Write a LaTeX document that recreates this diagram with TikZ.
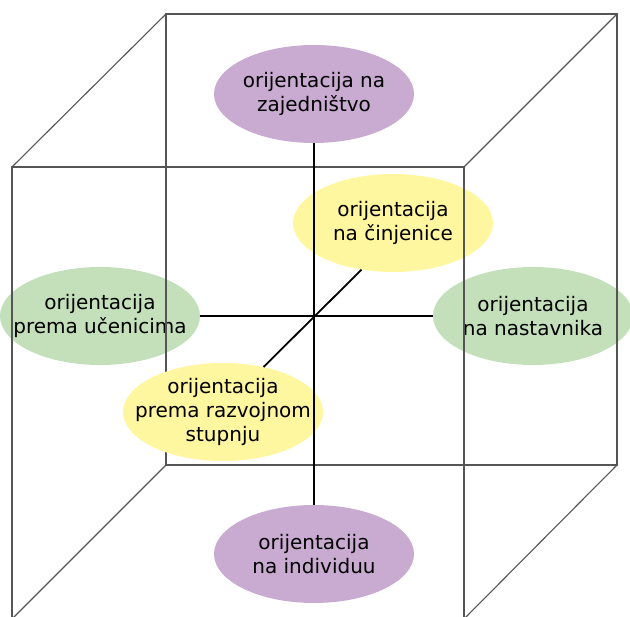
\documentclass[tikz,border=0pt]{standalone}
\usepackage{fontspec}
\setmainfont{DejaVu Sans}
\usetikzlibrary{shapes.geometric}
\definecolor{lilac}{RGB}{201,171,209}
\definecolor{leaf}{RGB}{196,224,186}
\definecolor{butter}{RGB}{255,246,160}
\definecolor{edgegray}{RGB}{85,85,85}
\tikzset{
  blob/.style={ellipse, minimum width=200pt, minimum height=98pt, inner sep=0pt},
  purp/.style={blob, fill=lilac},
  grn/.style={blob, fill=leaf},
  yel/.style={blob, fill=butter},
  caption/.style={inner sep=0pt, align=center, font=\fontsize{20}{24}\selectfont},
  cubeline/.style={draw=edgegray, line width=1.1pt},
  axis/.style={draw=black, line width=1.8pt}
}
\begin{document}
\begin{tikzpicture}[x=1pt, y=-1pt]
\useasboundingbox (0,0) rectangle (630,617);
\clip (0,0) rectangle (630,617);

% ellipses lying under the cube edges
\node[grn] (left) at (100,316) {};
\node[caption] at (left) {orijentacija\\prema učenicima};
\node[grn] (right) at (533,316) {};
\node[caption] at (right) {orijentacija\\na nastavnika};
\node[yel] (back) at (393,223) {};
\node[caption] at (back) {orijentacija\\na činjenice};
\node[purp] (top) at (314,94) {};
\node[caption] at (top) {orijentacija na\\zajedništvo};
\node[purp] (bottom) at (314,554) {};
\node[caption] at (bottom) {orijentacija\\na individuu};

% cube: rear face, front face and the four connecting edges
\coordinate (b1) at (166,14);
\coordinate (b2) at (617,14);
\coordinate (b3) at (617,465);
\coordinate (b4) at (166,465);
\coordinate (f1) at (12,167);
\coordinate (f2) at (464,167);
\coordinate (f3) at (464,619);
\coordinate (f4) at (12,619);
\draw[cubeline] (b1) -- (b2) -- (b3) -- (b4) -- cycle;
\draw[cubeline] (f1) -- (f2) -- (f3) -- (f4) -- cycle;
\draw[cubeline] (b1) -- (f1);
\draw[cubeline] (b2) -- (f2);
\draw[cubeline] (b3) -- (f3);
\draw[cubeline] (b4) -- (f4);

% front ellipse covers the rear edge
\node[yel] (front) at (223,412) {};
\node[caption] at (front) {orijentacija\\prema razvojnom\\stupnju};

% the three axes
\draw[axis] (left.east) -- (right.west);
\draw[axis] (back.236) -- (front.48);
\draw[axis] (top.south) -- (bottom.north);
\end{tikzpicture}
\end{document}
